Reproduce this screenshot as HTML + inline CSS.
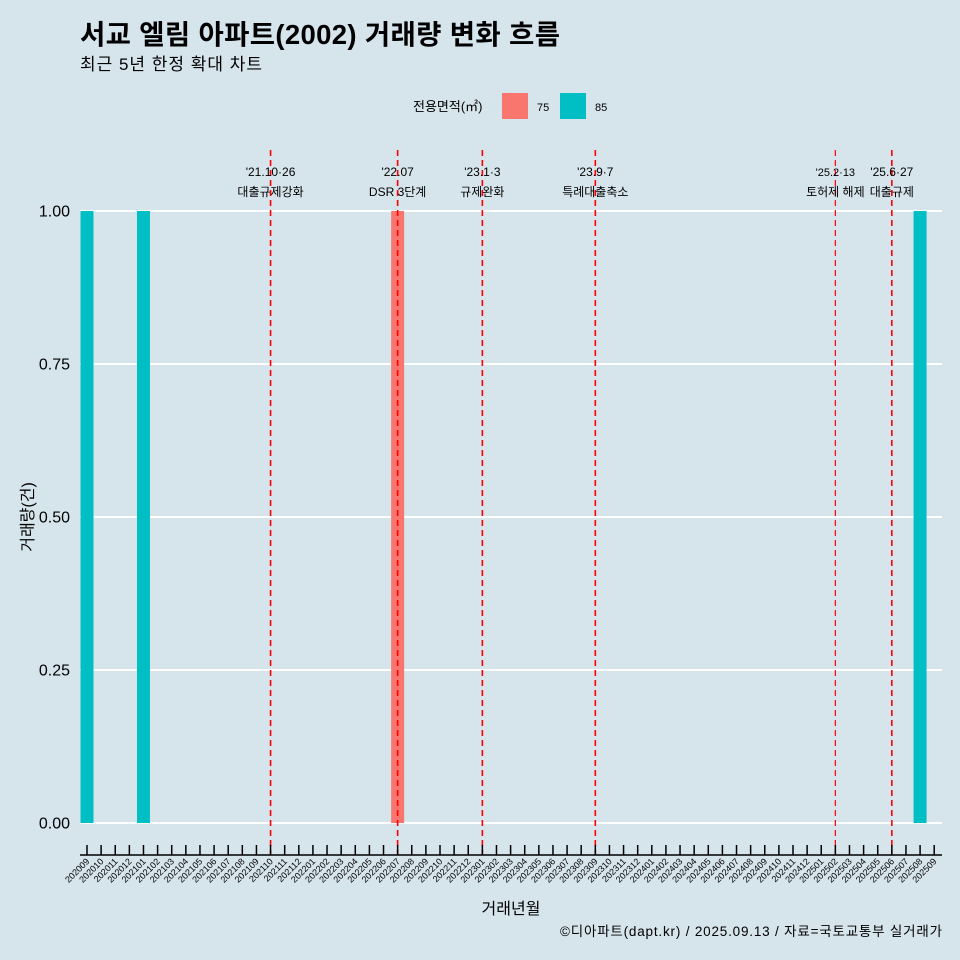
<!DOCTYPE html>
<html><head><meta charset="utf-8"><style>
body{margin:0;background:#d6e4ec;}
svg{display:block;font-family:"Liberation Sans","Noto Sans CJK KR",sans-serif;}
</style></head><body>
<svg id="c" width="960" height="960" viewBox="0 0 960 960">
<rect width="960" height="960" fill="#d6e4ec"/>
<text x="80" y="44" font-size="27.5" font-weight="bold" fill="#000" textLength="480">서교 엘림 아파트(2002) 거래량 변화 흐름</text>
<text x="80" y="70" font-size="17" fill="#000" textLength="182">최근 5년 한정 확대 차트</text>
<g>
<text x="413" y="111" font-size="13">전용면적(㎡)</text>
<rect x="502" y="93" width="26" height="26" fill="#f8766d"/>
<text x="537" y="111" font-size="11">75</text>
<rect x="560" y="93" width="26" height="26" fill="#00bfc4"/>
<text x="595" y="111" font-size="11">85</text>
</g>
<g id="grid"></g><g id="bars"></g><g id="events"></g><g id="axes"></g>
<text transform="translate(33,517) rotate(-90)" text-anchor="middle" font-size="16">거래량(건)</text>
<text x="511" y="914" text-anchor="middle" font-size="16">거래년월</text>
<text x="942" y="936" text-anchor="end" font-size="13.5" textLength="382">©디아파트(dapt.kr) / 2025.09.13 / 자료=국토교통부 실거래가</text>
</svg>
<script>
const months=[];
for(let y=2020,m=9;y*100+m<=202509;){months.push(String(y*100+m));m++;if(m>12){m=1;y++;}}
const barMonths=["202009","202101","202207","202508"];
const barValues=[1,1,1,1];
const barSizes=["85","85","75","85"];
const yTicks=[0,0.25,0.5,0.75,1];
const yTickLabels=["0.00","0.25","0.50","0.75","1.00"];
const eventMonths=["202110","202207","202301","202309","202502","202506"];
const eventLine1=["'21.10·26","'22.07","'23.1·3","'23.9·7","'25.2·13","'25.6·27"];
const eventLine2=["대출규제강화","DSR 3단계","규제완화","특례대출축소","토허제 해제","대출규제"];
const ns="http://www.w3.org/2000/svg";
const x0=87,step=14.12,yTop=211,yBot=823;
const X=m=>x0+months.indexOf(m)*step;
const Y=v=>yBot-(yBot-yTop)*v;
function mk(p,t,a){const e=document.createElementNS(ns,t);for(const k in a)e.setAttribute(k,a[k]);document.getElementById(p).appendChild(e);return e;}
yTicks.forEach((v,i)=>{
 const l=mk('grid','line',{x1:80,x2:942,y1:Y(v),y2:Y(v),stroke:'#fff','stroke-width':2});
 
 
 const t=mk('axes','text',{x:70,y:Y(v)+5.5,'text-anchor':'end','font-size':16});
 t.textContent=yTickLabels[i];
 
 
});
barMonths.forEach((m,i)=>{
 const r=mk('bars','rect',{x:X(m)-6.5,y:Y(barValues[i]),width:13,height:Y(0)-Y(barValues[i]),fill:barSizes[i]==="75"?'#f8766d':'#00bfc4'});
 
 
});
eventMonths.forEach((m,i)=>{
 const x=X(m);
 const l=mk('events','line',{x1:x,x2:x,y1:150,y2:855,stroke:'#ff0000','stroke-width':i==4?1.2:1.6,'stroke-dasharray':'6,4'});
 
 
 const a=mk('events','text',{x:x,y:176,'text-anchor':'middle','font-size':i==4?11:12});
 a.textContent=eventLine1[i];
 
 
 const b=mk('events','text',{x:x,y:196,'text-anchor':'middle','font-size':12});
 b.textContent=eventLine2[i];
 
 
});
const ax=mk('axes','line',{x1:80,x2:942,y1:855,y2:855,stroke:'#000','stroke-width':1.5});


months.forEach(m=>{
 const x=X(m);
 const t=mk('axes','line',{x1:x,x2:x,y1:845,y2:855,stroke:'#000','stroke-width':1.5});
 
 
 const l=mk('axes','text',{x:x+3,y:862,'text-anchor':'end','font-size':9,transform:`rotate(-45 ${x+3} 862)`});
 l.textContent=m;
 
 
});
</script>
</body></html>
